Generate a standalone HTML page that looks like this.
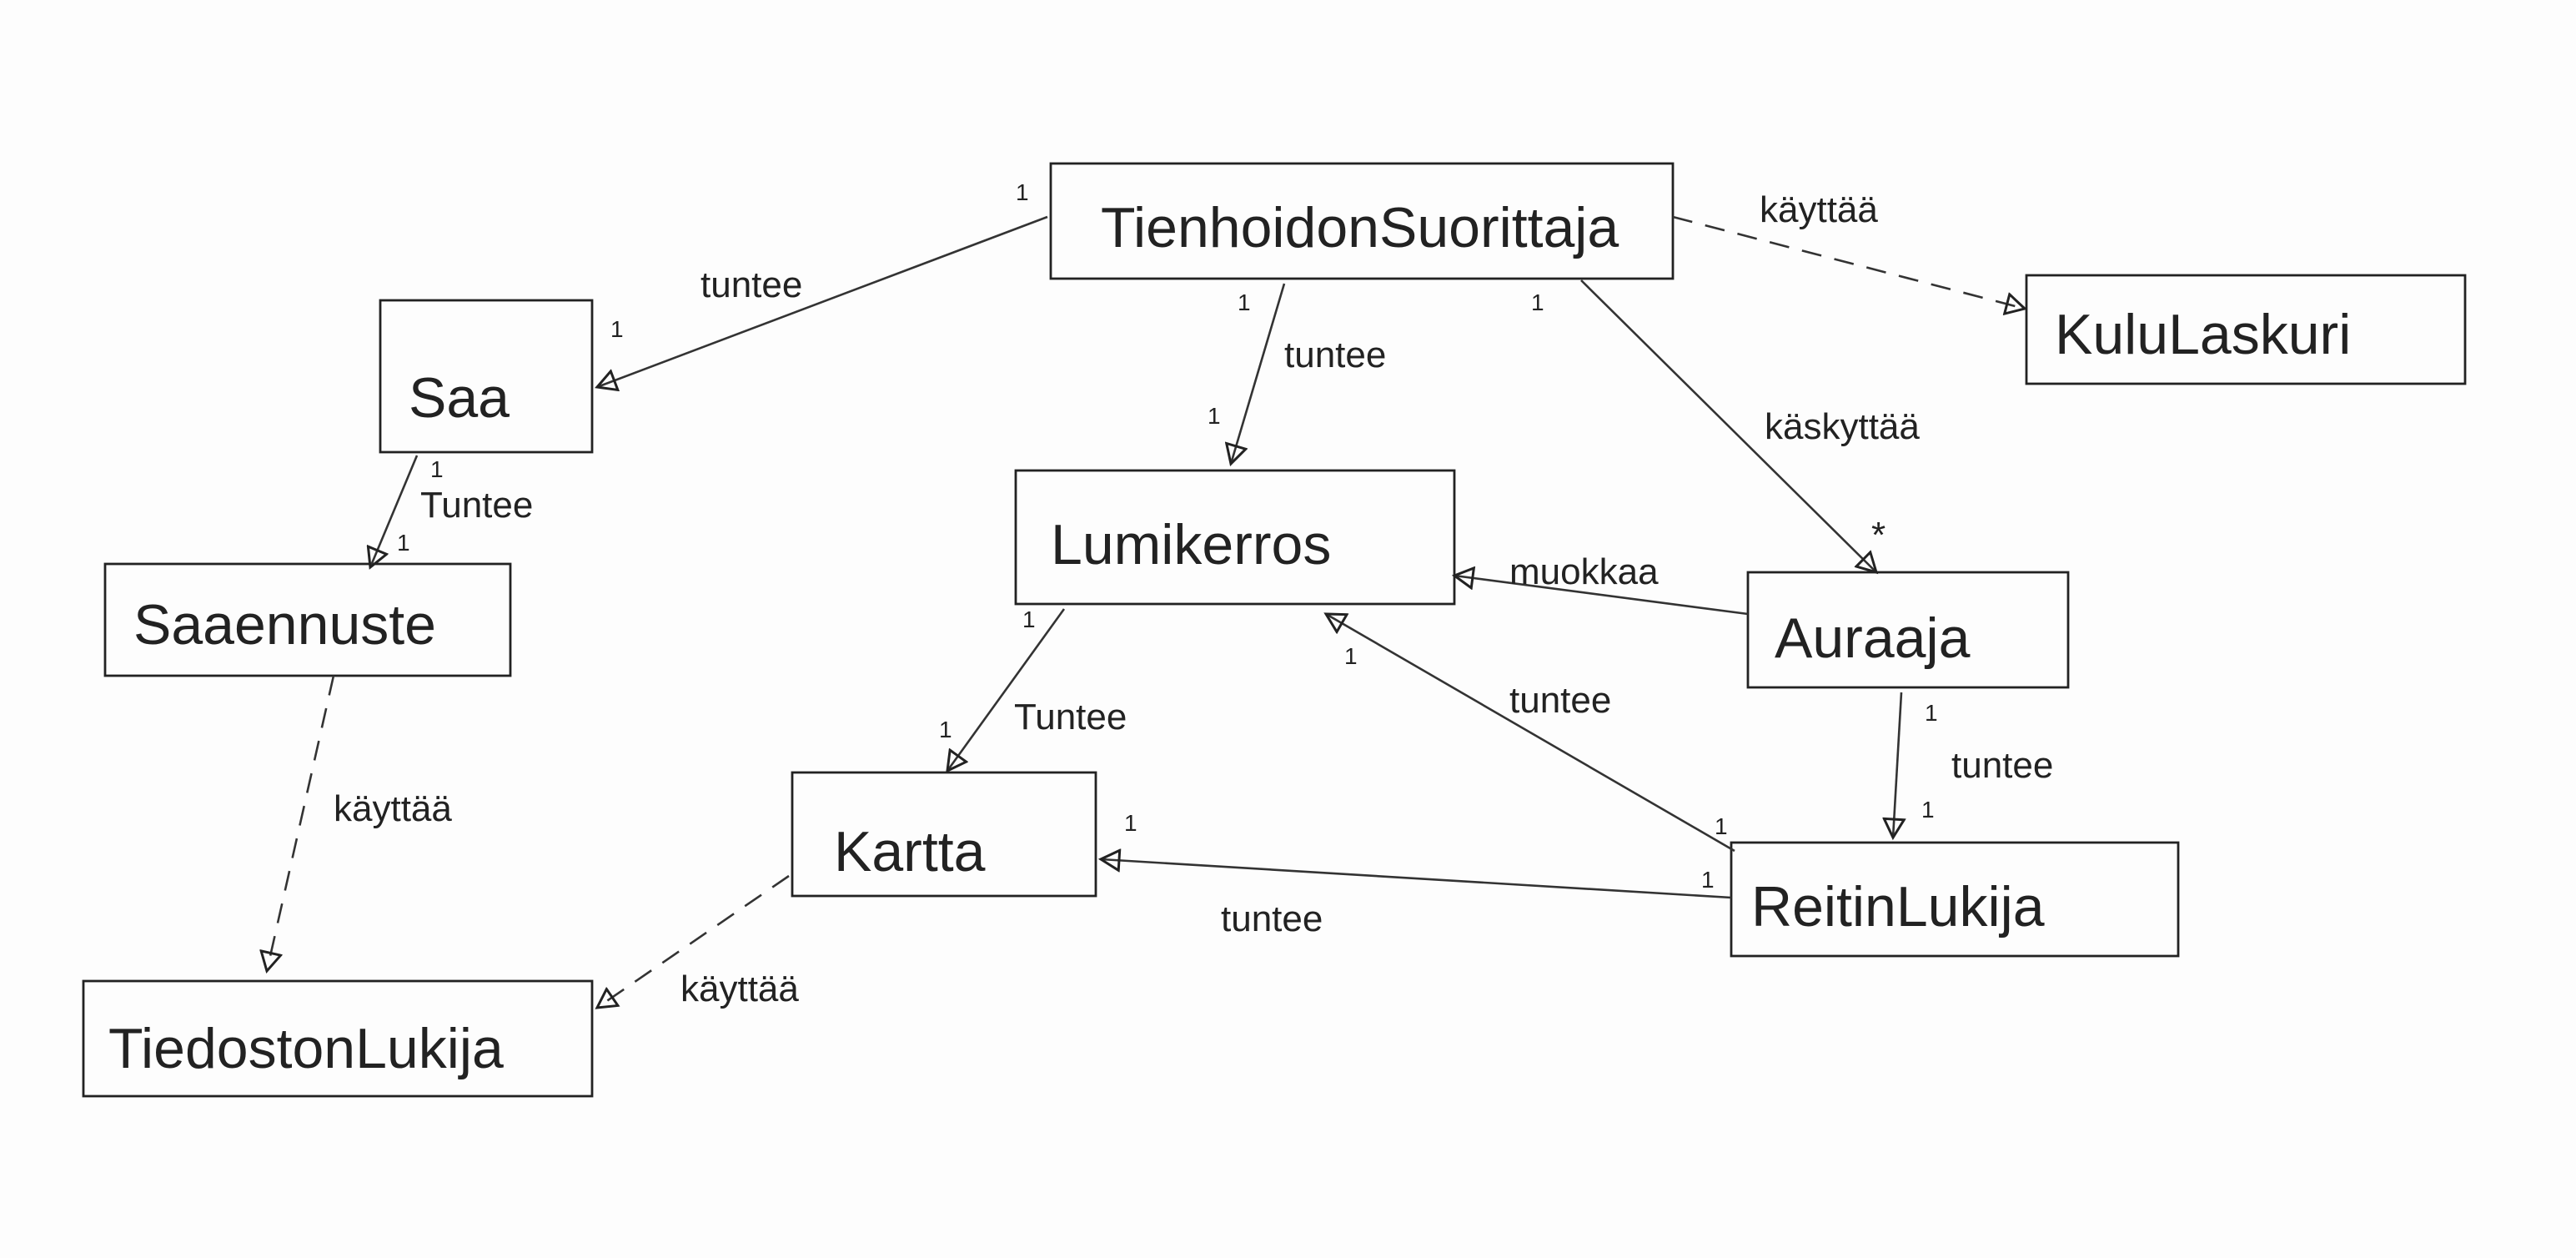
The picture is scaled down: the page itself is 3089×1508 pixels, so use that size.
<!DOCTYPE html>
<html><head><meta charset="utf-8"><style>
html,body{margin:0;padding:0;background:#fdfdfd;}
svg{display:block}
text{font-family:"Liberation Sans",sans-serif;fill:#222;}
.b{fill:none;stroke:#222;stroke-width:1.4}
.l{stroke:#333;stroke-width:1.3;fill:none}
.d{stroke:#333;stroke-width:1.3;fill:none;stroke-dasharray:12 8}
.n{font-size:34px}
.s{font-size:22px}
.o{font-size:14px}
</style></head><body>
<svg width="3089" height="1508" viewBox="0 0 1544.5 754">
<defs><marker id="a" markerWidth="14" markerHeight="14" refX="12" refY="7" orient="auto" markerUnits="userSpaceOnUse"><path d="M1,1 L12,7 L1,13 Z" fill="none" stroke="#222" stroke-width="1.5"/></marker></defs>
<rect class="b" x="630" y="98" width="373" height="69"/>
<rect class="b" x="1215" y="165" width="263" height="65"/>
<rect class="b" x="228" y="180" width="127" height="91"/>
<rect class="b" x="609" y="282" width="263" height="80"/>
<rect class="b" x="63" y="338" width="243" height="67"/>
<rect class="b" x="1048" y="343" width="192" height="69"/>
<rect class="b" x="475" y="463" width="182" height="74"/>
<rect class="b" x="1038" y="505" width="268" height="68"/>
<rect class="b" x="50" y="588" width="305" height="69"/>
<text class="n" x="660" y="148">TienhoidonSuorittaja</text>
<text class="n" x="1232" y="212">KuluLaskuri</text>
<text class="n" x="245" y="250">Saa</text>
<text class="n" x="630" y="338">Lumikerros</text>
<text class="n" x="80" y="386">Saaennuste</text>
<text class="n" x="1064" y="394">Auraaja</text>
<text class="n" x="500" y="522">Kartta</text>
<text class="n" x="1050" y="555">ReitinLukija</text>
<text class="n" x="65" y="640">TiedostonLukija</text>
<line class="l" x1="628" y1="130" x2="358" y2="232" marker-end="url(#a)"/>
<line class="l" x1="770" y1="170" x2="738" y2="278" marker-end="url(#a)"/>
<line class="d" x1="1003" y1="130" x2="1214" y2="185" marker-end="url(#a)"/>
<line class="l" x1="948" y1="168" x2="1125" y2="343" marker-end="url(#a)"/>
<line class="l" x1="250" y1="273" x2="222" y2="340" marker-end="url(#a)"/>
<line class="d" x1="200" y1="405" x2="160" y2="582" marker-end="url(#a)"/>
<line class="l" x1="1048" y1="368" x2="872" y2="345" marker-end="url(#a)"/>
<line class="l" x1="638" y1="365" x2="568" y2="462" marker-end="url(#a)"/>
<line class="l" x1="1040" y1="510" x2="795" y2="368" marker-end="url(#a)"/>
<line class="l" x1="1140" y1="415" x2="1135" y2="502" marker-end="url(#a)"/>
<line class="l" x1="1038" y1="538" x2="660" y2="515" marker-end="url(#a)"/>
<line class="d" x1="473" y1="525" x2="358" y2="604" marker-end="url(#a)"/>
<text class="s" x="420" y="178">tuntee</text>
<text class="s" x="770" y="220">tuntee</text>
<text class="s" x="1055" y="133">käyttää</text>
<text class="s" x="1058" y="263">käskyttää</text>
<text class="s" x="252" y="310">Tuntee</text>
<text class="s" x="200" y="492">käyttää</text>
<text class="s" x="905" y="350">muokkaa</text>
<text class="s" x="608" y="437">Tuntee</text>
<text class="s" x="905" y="427">tuntee</text>
<text class="s" x="1170" y="466">tuntee</text>
<text class="s" x="732" y="558">tuntee</text>
<text class="s" x="408" y="600">käyttää</text>
<text class="o" x="609" y="120">1</text><text class="o" x="366" y="202">1</text>
<text class="o" x="742" y="186">1</text><text class="o" x="724" y="254">1</text>
<text class="o" x="918" y="186">1</text><text class="s" x="1122" y="328">*</text>
<text class="o" x="258" y="286">1</text><text class="o" x="238" y="330">1</text>
<text class="o" x="613" y="376">1</text><text class="o" x="563" y="442">1</text>
<text class="o" x="674" y="498">1</text><text class="o" x="1020" y="532">1</text>
<text class="o" x="1028" y="500">1</text><text class="o" x="806" y="398">1</text>
<text class="o" x="1154" y="432">1</text><text class="o" x="1152" y="490">1</text>
</svg>
</body></html>
